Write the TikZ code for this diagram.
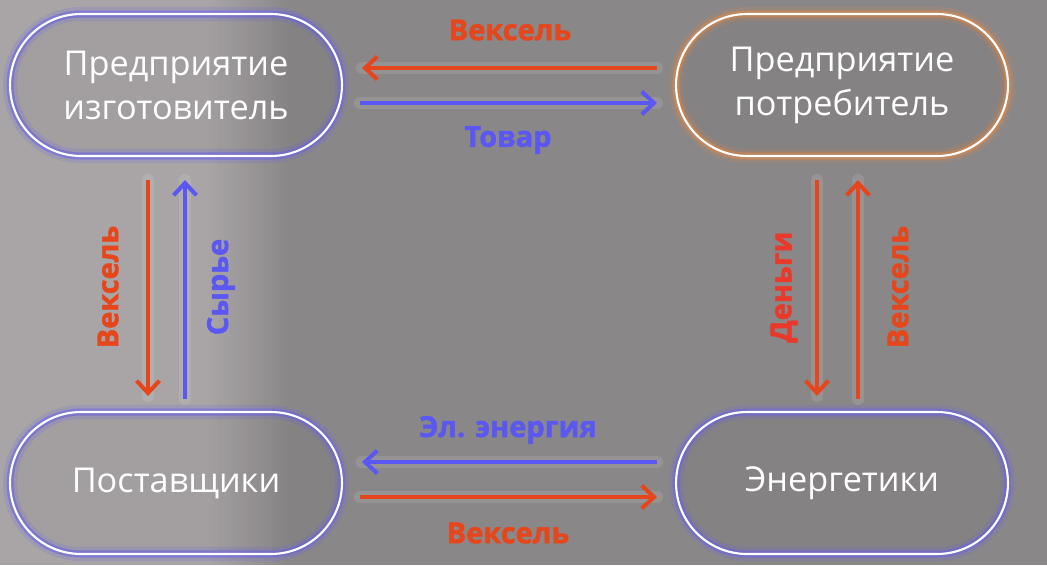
\documentclass[tikz,border=0pt]{standalone}
\usepackage{fontspec}
\setmainfont{Open Sans}
\newfontfamily\heavyfont{Open Sans}[UprightFont={* Bold}, FakeBold=1.6]
\usetikzlibrary{arrows.meta, positioning, calc}
\definecolor{arrred}{HTML}{E6461C}
\definecolor{monred}{HTML}{E8392A}
\definecolor{arrblue}{HTML}{5B57F2}
\definecolor{glowblue}{HTML}{6B63EA}
\definecolor{gloworange}{HTML}{E08A4A}
\definecolor{bgleft}{HTML}{A9A5A7}
\definecolor{bgright}{HTML}{8A8788}
\tikzset{
  party/.style = {draw=white, line width=1.2pt, rectangle, rounded corners=1.42cm,
                  align=center, text=white, font=\fontsize{19.5}{25}\selectfont,
                  minimum width=6.64cm, minimum height=2.84cm,
                  fill=black, fill opacity=0.03, text opacity=1,
                  preaction={draw=#1, line width=8pt, draw opacity=0.18},
                  preaction={draw=#1, line width=4pt, draw opacity=0.55}},
  party/.default = glowblue,
  glow/.style  = {preaction={draw=white, draw opacity=0.1, line width=7pt,
                             line cap=round, -}},
  redarr/.style  = {draw=arrred, line width=2.3pt, glow,
                    -{Straight Barb[length=7pt, width=13pt]}},
  bluearr/.style = {draw=arrblue, line width=2.3pt, glow,
                    -{Straight Barb[length=7pt, width=13pt]}},
  lbl/.style = {font=\fontsize{16.5}{18}\selectfont\heavyfont, inner sep=1pt}
}
\begin{document}
\begin{tikzpicture}[x=0.02cm, y=-0.02cm]
  \useasboundingbox (0,0) rectangle (1047,565);

  % background
  \fill[bgright] (0,0) rectangle (1047,565);
  \fill[bgleft] (0,0) rectangle (206,565);
  \foreach \i in {0,...,19}{
    \pgfmathtruncatemacro\mix{100-5*\i}
    \fill[bgleft!\mix!bgright] ({205+4.2*\i},0) rectangle ({210.5+4.2*\i},565);
  }

  % parties
  \node[party]            (maker)    at (176,85)  {Предприятие\\изготовитель};
  \node[party=gloworange] (consumer) at (842,85)  {Предприятие\\потребитель};
  \node[party]            (supplier) at (176,483) {Поставщики};
  \node[party]            (energy)   at (842,483) {Энергетики};

  % top: maker <-> consumer
  \draw[redarr, shorten <=0.36cm, shorten >=0.38cm]
    ([yshift=0.34cm]consumer.west) -- ([yshift=0.34cm]maker.east);
  \draw[bluearr, shorten <=0.34cm, shorten >=0.36cm]
    ([yshift=-0.36cm]maker.east) -- ([yshift=-0.36cm]consumer.west);
  \node[lbl, text=arrred]  (billTop)  at (510,30)  {Вексель};
  \node[lbl, text=arrblue] (goods)    at (508,140) {Товар};

  % left: maker <-> supplier
  \draw[redarr, shorten <=0.46cm, shorten >=0.30cm]
    ([xshift=-0.56cm]maker.south) -- ([xshift=-0.56cm]supplier.north);
  \draw[bluearr, shorten <=0.24cm, shorten >=0.46cm]
    ([xshift=0.18cm]supplier.north) -- ([xshift=0.18cm]maker.south);
  \node[lbl, text=arrred, rotate=90]  (billLeft) at (108,287) {Вексель};
  \node[lbl, text=arrblue, rotate=90] (raw)      at (221,287) {Сырье};

  % right: consumer <-> energy
  \draw[redarr, shorten <=0.46cm, shorten >=0.30cm]
    ([xshift=-0.5cm]consumer.south) -- ([xshift=-0.5cm]energy.north);
  \draw[redarr, shorten <=0.24cm, shorten >=0.46cm]
    ([xshift=0.32cm]energy.north) -- ([xshift=0.32cm]consumer.south);
  \node[lbl, text=monred, rotate=90] (money)     at (784,287) {Деньги};
  \node[lbl, text=arrred, rotate=90] (billRight) at (898,287) {Вексель};

  % bottom: supplier <-> energy
  \draw[bluearr, shorten <=0.36cm, shorten >=0.38cm]
    ([yshift=0.42cm]energy.west) -- ([yshift=0.42cm]supplier.east);
  \draw[redarr, shorten <=0.34cm, shorten >=0.36cm]
    ([yshift=-0.28cm]supplier.east) -- ([yshift=-0.28cm]energy.west);
  \node[lbl, text=arrblue] (power)   at (508,430) {Эл. энергия};
  \node[lbl, text=arrred]  (billBot) at (508,533) {Вексель};

\end{tikzpicture}
\end{document}
